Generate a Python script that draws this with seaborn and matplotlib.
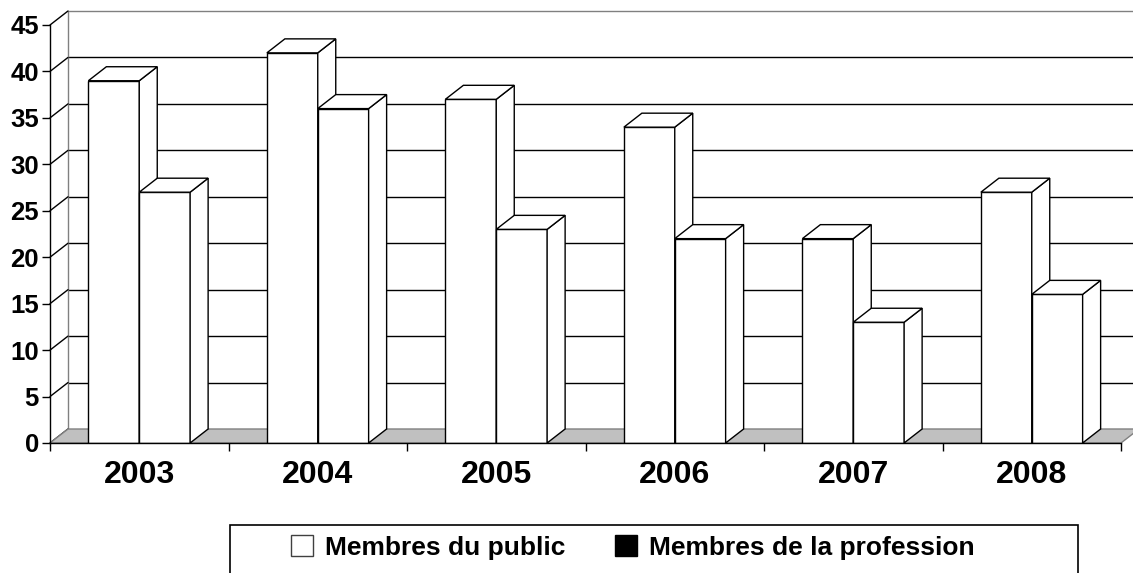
import numpy as np
import pandas as pd
import seaborn as sns
import matplotlib.pyplot as plt
from matplotlib.patches import Polygon, Rectangle, Patch

# data
years = ['2003', '2004', '2005', '2006', '2007', '2008']
public = [39, 42, 37, 34, 22, 27]
profession = [27, 36, 23, 22, 13, 16]
series = ['Membres du public', 'Membres de la profession']
y_ticks = list(range(0, 50, 5))

sns.set_theme(style="white")
plt.rcParams['font.family'] = ['Liberation Sans', 'DejaVu Sans']
plt.rcParams['text.color'] = 'black'
plt.rcParams['xtick.color'] = 'black'
plt.rcParams['ytick.color'] = 'black'

df = pd.DataFrame({'annee': years * 2,
                   'valeur': public + profession,
                   'groupe': [series[0]] * len(years) + [series[1]] * len(years)})

W, H = 1133, 573
fig = plt.figure(figsize=(W / 100, H / 100), dpi=100)
fig.patch.set_facecolor('white')
ax = fig.add_axes([50 / W, 130 / H, 1071 / W, 418 / H])
ax.patch.set_alpha(0)

sns.barplot(data=df, x='annee', y='valeur', hue='groupe', hue_order=series,
            palette=['white', 'white'], saturation=1, width=0.57,
            edgecolor='black', linewidth=1, legend=False, ax=ax)

ax.set_xlim(-0.5, len(years) - 0.5)
ax.set_ylim(0, 45)

# depth of the fake 3d effect, in pixels -> data units
DX = 18 / (1071 / len(years))
DY = 14 / (418 / 45)
x_left, x_right = -0.5, len(years) - 0.5

# back wall gridlines
for v in y_ticks[1:]:
    col = '#808080' if v == y_ticks[-1] else 'black'
    ax.plot([x_left + DX, x_right + DX + 0.2], [v + DY, v + DY],
            color=col, lw=1, zorder=1, clip_on=False)
# left wall
ax.plot([x_left + DX, x_left + DX], [DY, 45 + DY], color='#808080', lw=1,
        zorder=1, clip_on=False)
for v in y_ticks:
    ax.plot([x_left, x_left + DX], [v, v + DY], color='black', lw=1,
            zorder=1, clip_on=False)
# floor
floor = Polygon([(x_left, 0), (x_right, 0), (x_right + DX, DY), (x_left + DX, DY)],
                closed=True, facecolor='#c0c0c0', edgecolor='#808080', lw=1,
                zorder=2, clip_on=False)
ax.add_patch(floor)

# tops and sides of the bars, drawn left to right
bars = sorted([p for p in ax.patches if isinstance(p, Rectangle)], key=lambda p: p.get_x())
for i, bar in enumerate(bars):
    x0, w, h = bar.get_x(), bar.get_width(), bar.get_height()
    z = 5 + 3 * i
    bar.set_zorder(z)
    side = Polygon([(x0 + w, 0), (x0 + w + DX, DY), (x0 + w + DX, h + DY), (x0 + w, h)],
                   closed=True, facecolor='white', edgecolor='black', lw=1,
                   zorder=z + 1, clip_on=False)
    top = Polygon([(x0, h), (x0 + w, h), (x0 + w + DX, h + DY), (x0 + DX, h + DY)],
                  closed=True, facecolor='white', edgecolor='black', lw=1,
                  zorder=z + 2, clip_on=False)
    ax.add_patch(side)
    ax.add_patch(top)

# axes
for s in ['top', 'right']:
    ax.spines[s].set_visible(False)
for s in ['left', 'bottom']:
    ax.spines[s].set_color('black')
    ax.spines[s].set_linewidth(1)
    ax.spines[s].set_zorder(50)

ax.set_yticks(y_ticks)
ax.set_yticklabels([str(v) for v in y_ticks], fontsize=18.5, fontweight='bold',
                   color='black')
ax.set_xticks(range(len(years)))
ax.set_xticklabels(years, fontsize=23, fontweight='bold', color='black')
ax.set_xticks(np.arange(len(years) + 1) - 0.5, minor=True)
ax.tick_params(axis='y', left=True, direction='out', length=6, width=1,
               color='black', pad=2)
ax.tick_params(axis='x', which='major', bottom=True, length=0, pad=12)
ax.tick_params(axis='x', which='minor', bottom=True, direction='out',
               length=6, width=1, color='black')
ax.set_xlabel('')
ax.set_ylabel('')

# legend
handles = [Patch(facecolor='white', edgecolor='#404040', lw=1),
           Patch(facecolor='black', edgecolor='black')]
fig.legend(handles, series, loc='upper left', bbox_to_anchor=(291 / W, 1 - 535 / H),
           ncol=2, frameon=False, prop={'weight': 'bold', 'size': 19},
           labelcolor='black',
           handlelength=0.83, handleheight=0.85, handletextpad=0.45,
           columnspacing=1.9, borderpad=0, borderaxespad=0)
fig.add_artist(Rectangle((230 / W, -0.1), (1078 - 230) / W, 0.1 + (H - 525) / H,
                         transform=fig.transFigure, fill=False,
                         edgecolor='black', lw=1.2))

fig.savefig('out.png', dpi=100)
